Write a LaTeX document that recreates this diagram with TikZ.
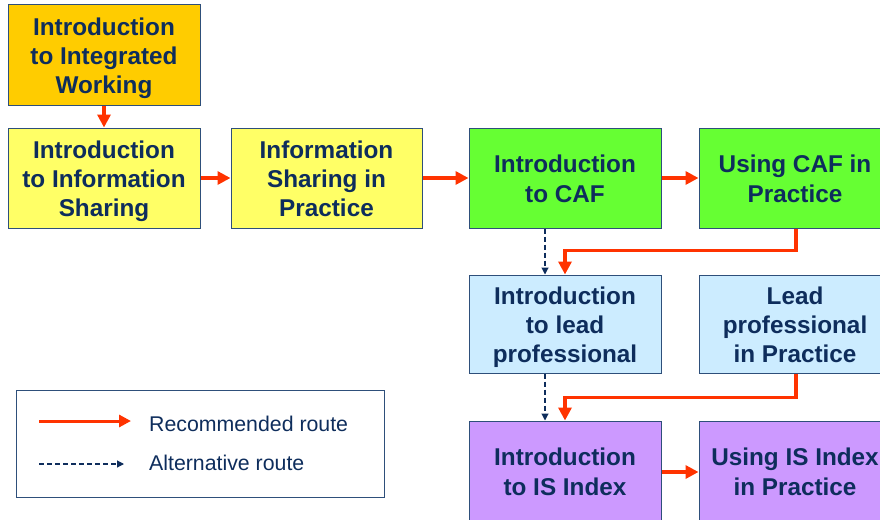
\documentclass[tikz,border=0pt]{standalone}
\usepackage{fontspec}
\setmainfont{Liberation Sans}
\usetikzlibrary{arrows.meta}
\definecolor{navy}{HTML}{0E2D5C}
\definecolor{edge}{HTML}{2E4F7A}
\definecolor{redr}{HTML}{FF3300}
\definecolor{orangebox}{HTML}{FFCC00}
\definecolor{yellowbox}{HTML}{FFFF66}
\definecolor{greenbox}{HTML}{66FF33}
\definecolor{bluebox}{HTML}{CCECFF}
\definecolor{purplebox}{HTML}{CC99FF}
\newcommand\lstrut{\rule[-5.2pt]{0pt}{29.2pt}}
\tikzset{
  course/.style={draw=edge, line width=1pt, minimum width=192pt, minimum height=100pt,
    align=center, text=navy, font=\fontsize{24.3}{29.2}\selectfont\bfseries, inner sep=0pt},
  rec/.style={draw=redr, line width=3.5pt, -{Triangle[length=13pt,width=13pt]}},
  alt/.style={draw=navy, line width=1.1pt, dash pattern=on 5pt off 3pt, -{Triangle[length=7pt,width=7pt]}},
  legtext/.style={text=navy, font=\fontsize{21.3}{25}\selectfont, anchor=west, inner sep=0pt}
}
\begin{document}
\begin{tikzpicture}[x=1pt,y=-1pt]
\useasboundingbox (0,0) rectangle (880,519);
\clip (0,0) rectangle (880,519);
\node[course, fill=orangebox] (A) at (104,55) {\lstrut Introduction\\\lstrut to Integrated\\\lstrut Working};
\node[course, fill=yellowbox] (B) at (104,178) {\lstrut Introduction\\\lstrut to Information\\\lstrut Sharing};
\node[course, fill=yellowbox, minimum width=191pt] (C) at (326.5,178) {\lstrut Information\\\lstrut Sharing in\\\lstrut Practice};
\node[course, fill=greenbox] (D) at (565,178) {\lstrut Introduction\\\lstrut to CAF};
\node[course, fill=greenbox] (E) at (795,178) {\lstrut Using CAF in\\\lstrut Practice};
\node[course, fill=bluebox, minimum height=98pt] (F) at (565,324) {\lstrut Introduction\\\lstrut to lead\\\lstrut professional};
\node[course, fill=bluebox, minimum height=98pt] (G) at (795,324) {\lstrut Lead\\\lstrut professional\\\lstrut in Practice};
\node[course, fill=purplebox] (H) at (565,471) {\lstrut Introduction\\\lstrut to IS Index};
\node[course, fill=purplebox] (I) at (795,471) {\lstrut Using IS Index\\\lstrut in Practice};

\draw[rec] (A) -- (B);
\draw[rec] (B) -- (C);
\draw[rec] (C) -- (D);
\draw[rec] (D) -- (E);
\draw[rec] ([yshift=-1pt]H.east) -- ([yshift=-1pt]I.west);
\draw[rec] ([xshift=1pt]E.south) -- ++(0,22) -| (F.north);
\draw[rec] ([xshift=1pt]G.south) -- ++(0,24) -| (H.north);
\draw[alt] ([xshift=-20pt]D.south) -- ([xshift=-20pt]F.north);
\draw[alt] ([xshift=-20pt]F.south) -- ([xshift=-20pt]H.north);

\node[draw=edge, line width=1pt, minimum width=368pt, minimum height=107pt, inner sep=0pt] (L) at (200,443.5) {};
\coordinate (r1) at (39,421);
\coordinate (r2) at (131,421);
\coordinate (d1) at (39,464);
\coordinate (d2) at (124,464);
\draw[rec, line width=3pt, -{Triangle[length=12pt,width=12pt]}] (r1) -- (r2);
\draw[alt] (d1) -- (d2);
\node[legtext] (t1) at (149,424) {Recommended route};
\node[legtext] (t2) at (149,463) {Alternative route};
\end{tikzpicture}
\end{document}
